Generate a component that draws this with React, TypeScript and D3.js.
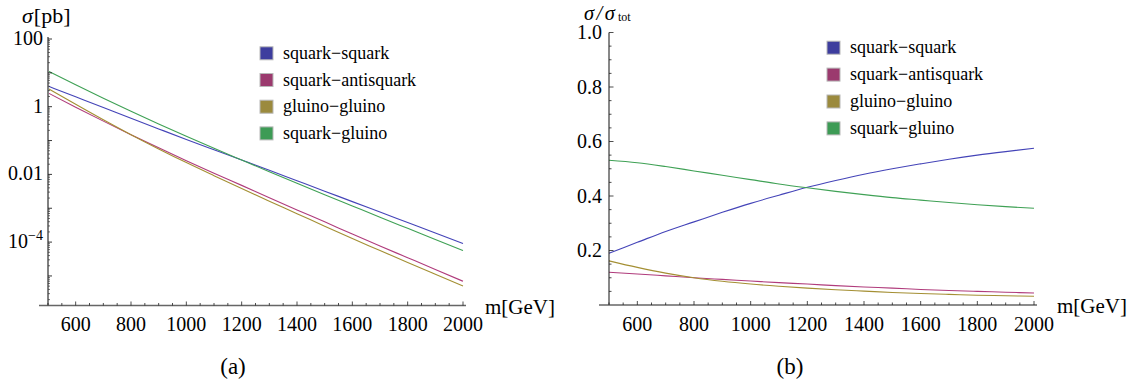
import React from "react";
import * as d3 from "d3";

// Sparticle pair-production cross sections vs. mass
const masses = [500, 600, 700, 800, 900, 1000, 1100, 1200, 1300, 1400, 1500, 1600, 1700, 1800, 1900, 2000];

// sigma [pb]
const sigmaSquarkSquark = [4.06, 1.96, 0.946, 0.454, 0.221, 0.108, 0.0535, 0.0266, 0.0132, 0.0065, 0.0032, 0.00157, 7.73e-4, 3.8e-4, 1.87e-4, 9.1e-5];
const sigmaSquarkAntisquark = [2.56, 0.97, 0.375, 0.149, 0.0611, 0.0255, 0.0109, 0.00474, 0.00205, 8.95e-4, 3.96e-4, 1.73e-4, 7.66e-5, 3.46e-5, 1.56e-5, 6.97e-6];
const sigmaGluinoGluino = [3.47, 1.175, 0.41, 0.149, 0.0566, 0.0223, 0.00916, 0.00382, 0.00161, 6.92e-4, 2.94e-4, 1.27e-4, 5.64e-5, 2.49e-5, 1.12e-5, 5.07e-6];
const sigmaSquarkGluino = [11.35, 4.45, 1.78, 0.733, 0.31, 0.134, 0.0589, 0.0265, 0.012, 0.00548, 0.00252, 0.00117, 5.43e-4, 2.55e-4, 1.2e-4, 5.62e-5];

// sigma / sigma_tot
const fracSquarkSquark = [0.19, 0.23, 0.27, 0.305, 0.34, 0.373, 0.403, 0.432, 0.457, 0.48, 0.5, 0.518, 0.535, 0.55, 0.563, 0.575];
const fracSquarkAntisquark = [0.12, 0.114, 0.107, 0.1, 0.094, 0.088, 0.082, 0.077, 0.071, 0.066, 0.062, 0.057, 0.053, 0.05, 0.047, 0.044];
const fracGluinoGluino = [0.162, 0.138, 0.117, 0.1, 0.087, 0.077, 0.069, 0.062, 0.056, 0.051, 0.046, 0.042, 0.039, 0.036, 0.034, 0.032];
const fracSquarkGluino = [0.531, 0.522, 0.508, 0.492, 0.476, 0.46, 0.444, 0.43, 0.417, 0.405, 0.394, 0.385, 0.376, 0.368, 0.361, 0.355];

const seriesNames = ["squark\u2212squark", "squark\u2212antisquark", "gluino\u2212gluino", "squark\u2212gluino"];
const seriesColors = ["#3d3d9e", "#9b3a6e", "#9b8a3d", "#3d9b55"];
const lineColors = ["#4444b8", "#b03c7c", "#a48f33", "#3fa155"];

const xTickValues = [600, 800, 1000, 1200, 1400, 1600, 1800, 2000];
const logTickLabels: [number, string, string | null][] = [
  [100, "100", null],
  [1, "1", null],
  [0.01, "0.01", null],
  [1e-4, "10", "\u22124"],
];
const fracTickValues = [0.2, 0.4, 0.6, 0.8, 1.0];

const FONT = "Liberation Serif, Times New Roman, Times, serif";
const INK = "#000";

const xMinorTicks = d3.range(500, 2001, 50);

function Legend({ x, y, dy }: { x: number; y: number; dy: number }) {
  return (
    <g>
      {seriesNames.map((n, i) => (
        <g key={n} transform={`translate(${x},${y + i * dy})`}>
          <rect x={0} y={-6.5} width={13} height={13} fill={seriesColors[i]} stroke="#b8b8b8" strokeWidth={1} />
          <text x={23} y={5.5} fontSize={18} style={{ fontFamily: FONT }} fill={INK}>{n}</text>
        </g>
      ))}
    </g>
  );
}

function LeftPanel() {
  const x = d3.scaleLinear().domain([500, 2000]).range([48, 463]);
  const y = d3.scaleLog().domain([1e-6, 100]).range([309.8, 39]);
  const yAxisMin = 1.34e-6;
  const y0 = y(yAxisMin);
  const series = [sigmaSquarkSquark, sigmaSquarkAntisquark, sigmaGluinoGluino, sigmaSquarkGluino];
  const line = d3
    .line<[number, number]>()
    .x((d) => x(d[0]))
    .y((d) => y(d[1]))
    .curve(d3.curveMonotoneX);

  const decadeTicks = d3.range(-5, 3).map((e) => Math.pow(10, e));
  const minorTicks: number[] = [];
  for (let e = -6; e < 2; e++) {
    for (let k = 2; k <= 9; k++) {
      const v = k * Math.pow(10, e);
      if (v >= yAxisMin && v <= 100) minorTicks.push(v);
    }
  }

  return (
    <g>
      {series.map((s, i) => (
        <path key={i} d={line(masses.map((m, j) => [m, s[j]]))!} fill="none" stroke={lineColors[i]} strokeWidth={1.1} />
      ))}
      {/* y axis */}
      <line x1={x(500)} x2={x(500)} y1={y0} y2={37} stroke="#808080" strokeWidth={2} />
      {minorTicks.map((v, i) => (
        <line key={"m" + i} x1={x(500)} x2={x(500) + 2} y1={y(v)} y2={y(v)} stroke="#333" strokeWidth={0.7} />
      ))}
      {decadeTicks.map((v, i) => (
        <line key={"d" + i} x1={x(500)} x2={x(500) + 4} y1={y(v)} y2={y(v)} stroke="#222" strokeWidth={0.9} />
      ))}
      {logTickLabels.map(([v, base, sup]) => (
        <text key={base + sup} x={43} y={y(v) + 6} textAnchor="end" fontSize={20} style={{ fontFamily: FONT }} fill={INK}>
          {base}
          {sup && (
            <tspan fontSize={14} dy={-8}>{sup}</tspan>
          )}
        </text>
      ))}
      {/* x axis */}
      <line x1={39} x2={466} y1={y0} y2={y0} stroke="#666" strokeWidth={1.6} />
      {xMinorTicks.map((v) => (
        <line key={v} x1={x(v)} x2={x(v)} y1={y0} y2={y0 - (v % 200 === 0 ? 4 : 2.5)} stroke="#222" strokeWidth={0.8} />
      ))}
      {xTickValues.map((v) => (
        <text key={v} x={x(v)} y={331} textAnchor="middle" fontSize={20} style={{ fontFamily: FONT }} fill={INK}>{v}</text>
      ))}
      <text x={485} y={314} fontSize={21} style={{ fontFamily: FONT }} fill={INK}>m[GeV]</text>
      <text x={22} y={23} fontSize={22} style={{ fontFamily: FONT }} fill={INK}>
        <tspan fontStyle="italic">σ</tspan>
        <tspan dx={1}>[pb]</tspan>
      </text>
      <Legend x={260} y={53.3} dy={26.7} />
      <text x={233} y={374} textAnchor="middle" fontSize={23} style={{ fontFamily: FONT }} fill={INK}>(a)</text>
    </g>
  );
}

function RightPanel() {
  const x = d3.scaleLinear().domain([500, 2000]).range([609, 1034]);
  const y = d3.scaleLinear().domain([0, 1]).range([305, 32.5]);
  const series = [fracSquarkSquark, fracSquarkAntisquark, fracGluinoGluino, fracSquarkGluino];
  const line = d3
    .line<[number, number]>()
    .x((d) => x(d[0]))
    .y((d) => y(d[1]))
    .curve(d3.curveMonotoneX);
  const yMinor = d3.range(0.05, 1.001, 0.05);

  return (
    <g>
      {series.map((s, i) => (
        <path key={i} d={line(masses.map((m, j) => [m, s[j]]))!} fill="none" stroke={lineColors[i]} strokeWidth={1.1} />
      ))}
      <line x1={x(500)} x2={x(500)} y1={y(0)} y2={y(1)} stroke="#111" strokeWidth={1} />
      {yMinor.map((v, i) => {
        const major = Math.abs(v * 5 - Math.round(v * 5)) < 1e-6;
        return (
          <line key={i} x1={x(500)} x2={x(500) + (major ? 4.5 : 2.5)} y1={y(v)} y2={y(v)} stroke="#222" strokeWidth={0.8} />
        );
      })}
      {fracTickValues.map((v) => (
        <text key={v} x={602} y={y(v) + 6.5} textAnchor="end" fontSize={20} style={{ fontFamily: FONT }} fill={INK}>{v.toFixed(1)}</text>
      ))}
      <line x1={599} x2={1037} y1={y(0)} y2={y(0)} stroke="#666" strokeWidth={1.6} />
      {xMinorTicks.map((v) => (
        <line key={v} x1={x(v)} x2={x(v)} y1={y(0)} y2={y(0) - (v % 200 === 0 ? 4 : 2.5)} stroke="#222" strokeWidth={0.8} />
      ))}
      {xTickValues.map((v) => (
        <text key={v} x={x(v)} y={331} textAnchor="middle" fontSize={20} style={{ fontFamily: FONT }} fill={INK}>{v}</text>
      ))}
      <text x={1057} y={313} fontSize={21} style={{ fontFamily: FONT }} fill={INK}>m[GeV]</text>
      <text x={584} y={20} fontSize={20.5} fontStyle="italic" letterSpacing={2.5} style={{ fontFamily: FONT }} fill={INK}>σ/σ</text>
      <text x={618} y={21} fontSize={12} style={{ fontFamily: FONT }} fill={INK}>tot</text>
      <Legend x={827} y={47.7} dy={26.9} />
      <text x={790} y={374} textAnchor="middle" fontSize={23} style={{ fontFamily: FONT }} fill={INK}>(b)</text>
    </g>
  );
}

export default function App() {
  return (
    <svg
      width={1136}
      height={383}
      viewBox="0 0 1136 383"
      style={{ position: "absolute", left: 0, top: 0, background: "#fff" }}
    >
      <rect width={1136} height={383} fill="#fff" />
      <LeftPanel />
      <RightPanel />
    </svg>
  );
}
